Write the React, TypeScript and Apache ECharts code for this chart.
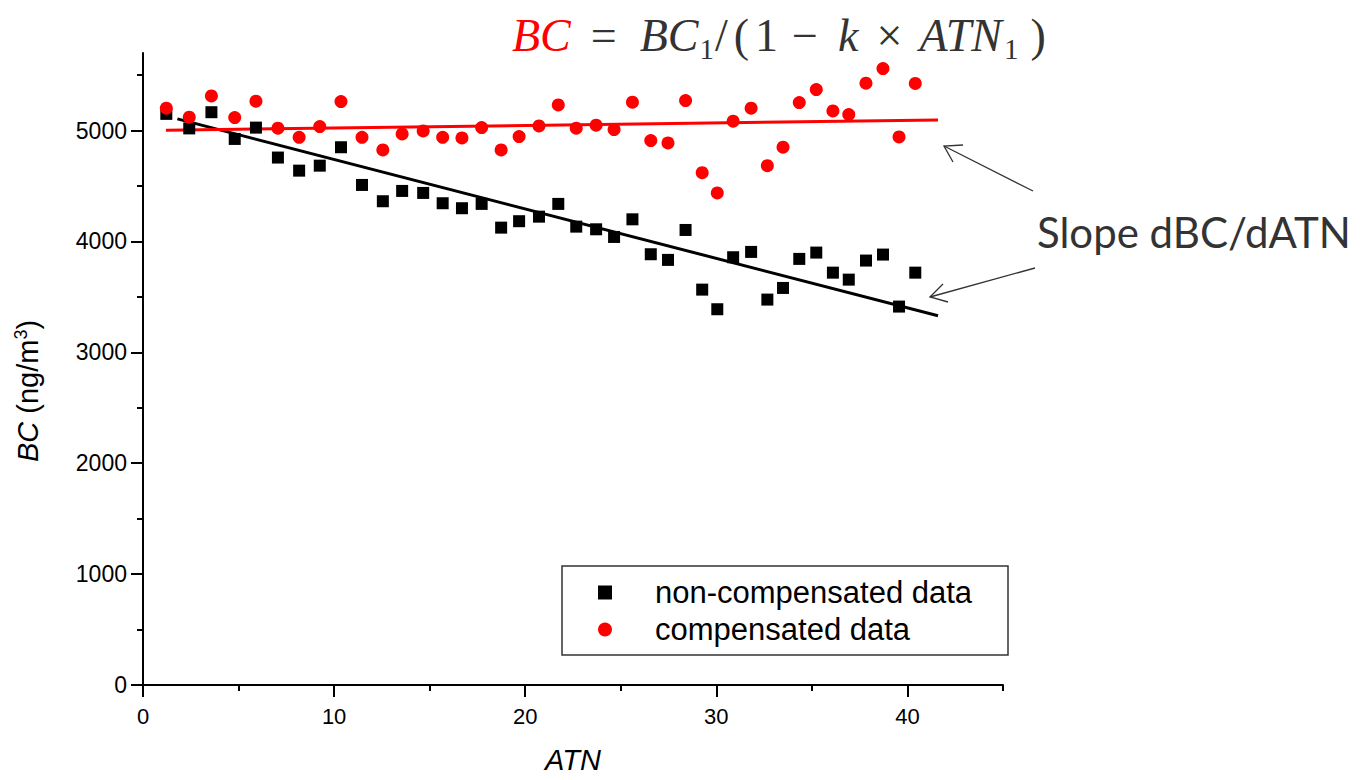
import React, { useEffect, useRef } from "react";
import * as echarts from "echarts";

// ATN values (x) shared by both data sets
const atn = [
  1.22, 2.42, 3.58, 4.8, 5.91, 7.06, 8.17, 9.25, 10.36, 11.46, 12.55, 13.56, 14.66, 15.68,
  16.69, 17.72, 18.74, 19.68, 20.72, 21.73, 22.67, 23.71, 24.65, 25.61, 26.57, 27.47, 28.39,
  29.26, 30.05, 30.88, 31.82, 32.67, 33.49, 34.34, 35.23, 36.1, 36.93, 37.83, 38.72, 39.56, 40.41,
];

// BC (ng/m3), non-compensated
const nonCompensated = [
  5151, 5020, 5166, 4925, 5027, 4757, 4639, 4684, 4850, 4510, 4363, 4456, 4438, 4345, 4300,
  4339, 4125, 4183, 4224, 4339, 4134, 4110, 4041, 4200, 3885, 3834, 4104, 3566, 3389, 3858,
  3906, 3476, 3581, 3843, 3900, 3719, 3656, 3828, 3882, 3413, 3719,
];

// BC (ng/m3), compensated
const compensated = [
  5202, 5121, 5313, 5118, 5265, 5022, 4940, 5036, 5262, 4940, 4826, 4970, 4997, 4940, 4934,
  5027, 4826, 4946, 5042, 5232, 5022, 5049, 5009, 5256, 4910, 4889, 5271, 4621, 4438, 5085,
  5202, 4684, 4850, 5253, 5370, 5178, 5145, 5428, 5560, 4943, 5425,
];

// linear fit lines (end points)
const compFitX = [1.2, 41.6];
const compFitY = [5003, 5096];
const nonCompFitX = [1.8, 41.6];
const nonCompFitY = [5106, 3330];

// axis ticks
const xMajorTicks = [0, 10, 20, 30, 40];
const xMinorTicks = [5, 15, 25, 35, 45];
const yMajorTicks = [0, 1000, 2000, 3000, 4000, 5000];
const yMinorTicks = [500, 1500, 2500, 3500, 4500, 5500];

const seriesNames = ["non-compensated data", "compensated data"];

export default function App() {
  const ref = useRef<HTMLDivElement>(null);

  useEffect(() => {
    if (!ref.current) return;
    const chart = echarts.init(ref.current, null, { renderer: "svg" });
    const axisColor = "#000";
    const sans = "Liberation Sans";
    const serif = "Liberation Serif";
    const fs = 46;
    const tok = (pl: number) => ({ fill: "#333", fontSize: fs, fontFamily: serif, padding: [0, 0, 0, pl] });
    const itok = (pl: number, color = "#333") => ({ fill: color, fontStyle: "italic", fontSize: fs, fontFamily: serif, padding: [0, 0, 0, pl] });
    const stok = (pl: number) => ({ fill: "#333", fontSize: 29, fontFamily: serif, padding: [28, 0, 0, pl] });

    const option: any = {
      animation: false,
      backgroundColor: "#fff",
      textStyle: { fontFamily: sans },
      grid: { left: 143, right: 360, top: 53, bottom: 95, containLabel: false, outerBoundsMode: "none" },
      xAxis: [
        {
          type: "value",
          min: 0,
          max: 45,
          interval: 10,
          position: "bottom",
          name: "ATN",
          nameLocation: "middle",
          nameGap: 60,
          nameTextStyle: { fontSize: 29, fontStyle: "italic", color: "#000", fontFamily: sans },
          axisLine: { show: true, onZero: false, lineStyle: { color: axisColor, width: 2 } },
          axisTick: { show: true, inside: false, length: 12, lineStyle: { color: axisColor, width: 2 }, customValues: xMajorTicks },
          axisLabel: { color: "#000", fontSize: 22, margin: 20, fontFamily: sans, customValues: xMajorTicks },
          splitLine: { show: false },
        },
        {
          type: "value",
          min: 0,
          max: 45,
          interval: 5,
          position: "bottom",
          axisLine: { show: false, onZero: false },
          axisLabel: { show: false },
          splitLine: { show: false },
          axisTick: { show: true, inside: false, length: 6, lineStyle: { color: axisColor, width: 2 }, customValues: xMinorTicks },
        },
      ],
      yAxis: [
        {
          type: "value",
          min: 0,
          max: 5700,
          interval: 1000,
          position: "left",
          name: "{i|BC} (ng/m{sup|3})",
          nameLocation: "middle",
          nameRotate: 90,
          nameGap: 100,
          nameTextStyle: {
            fontSize: 29,
            color: "#000",
            fontFamily: sans,
            padding: [0, 44, 0, 0],
            rich: {
              i: { fontSize: 29, fontStyle: "italic", color: "#000", fontFamily: sans },
              sup: { fontSize: 18, color: "#000", fontFamily: sans, padding: [0, 0, 13, 0] },
            },
          },
          axisLine: { show: true, onZero: false, lineStyle: { color: axisColor, width: 2 } },
          axisTick: { show: true, inside: false, length: 12, lineStyle: { color: axisColor, width: 2 }, customValues: yMajorTicks },
          axisLabel: {
            color: "#000",
            fontSize: 23,
            margin: 16,
            fontFamily: sans,
            customValues: yMajorTicks,
            formatter: (v: number) => String(v),
          },
          splitLine: { show: false },
        },
        {
          type: "value",
          min: 0,
          max: 5700,
          interval: 500,
          position: "left",
          axisLine: { show: false, onZero: false },
          axisLabel: { show: false },
          splitLine: { show: false },
          axisTick: { show: true, inside: false, length: 6, lineStyle: { color: axisColor, width: 2 }, customValues: yMinorTicks },
        },
      ],
      legend: {
        data: seriesNames,
        orient: "vertical",
        left: 598,
        top: 577,
        padding: 0,
        itemGap: 6,
        itemWidth: 14,
        itemHeight: 14,
        selectedMode: false,
        textStyle: { fontSize: 31, color: "#000", fontFamily: sans, padding: [0, 0, 0, 38], lineHeight: 31 },
      },
      series: [
        {
          type: "line",
          data: nonCompFitX.map((x, i) => [x, nonCompFitY[i]]),
          symbol: "none",
          lineStyle: { color: "#000", width: 3 },
          z: 2,
          silent: true,
        },
        {
          type: "line",
          data: compFitX.map((x, i) => [x, compFitY[i]]),
          symbol: "none",
          lineStyle: { color: "#ff0000", width: 3 },
          z: 2,
          silent: true,
        },
        {
          name: seriesNames[0],
          type: "scatter",
          symbol: "rect",
          symbolSize: 12,
          itemStyle: { color: "#000", opacity: 1 },
          data: atn.map((x, i) => [x, nonCompensated[i]]),
          z: 3,
        },
        {
          name: seriesNames[1],
          type: "scatter",
          symbol: "circle",
          symbolSize: 13,
          itemStyle: { color: "#ff0000", opacity: 1 },
          data: atn.map((x, i) => [x, compensated[i]]),
          z: 4,
        },
      ],
      graphic: [
        {
          type: "rect",
          shape: { x: 562, y: 566, width: 446, height: 89 },
          style: { fill: "none", stroke: "#333", lineWidth: 1.5 },
          z: 1,
        },
        {
          type: "text",
          x: 512,
          y: 35,
          style: {
            text:
              "{r|BC}{eq|=}{b|BC}{s1|1}{sl|/}{lp|(}{one|1}{mi|−}{k|k}{tm|×}{atn|ATN}{s2|1}{rp|)}",
            fontFamily: serif,
            fontSize: fs,
            fill: "#333",
            verticalAlign: "middle",
            rich: {
              r: itok(0, "#ff0000"),
              eq: tok(20),
              b: itok(23),
              s1: stok(1),
              sl: tok(1),
              lp: tok(6),
              one: tok(6),
              mi: tok(14),
              k: itok(20),
              tm: tok(18),
              atn: itok(17),
              s2: stok(2),
              rp: tok(12),
            },
          },
        },
        {
          type: "text",
          x: 1037,
          y: 232,
          style: {
            text: "Slope dBC/dATN",
            fontFamily: "Lato",
            fontSize: 42,
            fill: "#333",
            verticalAlign: "middle",
          },
        },
        {
          type: "line",
          shape: { x1: 1033, y1: 191, x2: 944, y2: 146 },
          style: { stroke: "#333", lineWidth: 1.3 },
        },
        {
          type: "polyline",
          shape: { points: [[963, 145], [944, 146], [953, 162]] },
          style: { stroke: "#333", lineWidth: 1.3, fill: "none" },
        },
        {
          type: "line",
          shape: { x1: 1035, y1: 268, x2: 930, y2: 297 },
          style: { stroke: "#333", lineWidth: 1.3 },
        },
        {
          type: "polyline",
          shape: { points: [[943, 284], [930, 297], [948, 302]] },
          style: { stroke: "#333", lineWidth: 1.3, fill: "none" },
        },
      ],
    };

    chart.setOption(option);
    return () => chart.dispose();
  }, []);

  return (
    <div
      ref={ref}
      style={{ position: "fixed", left: 0, top: 0, width: 1363, height: 780 }}
    />
  );
}
